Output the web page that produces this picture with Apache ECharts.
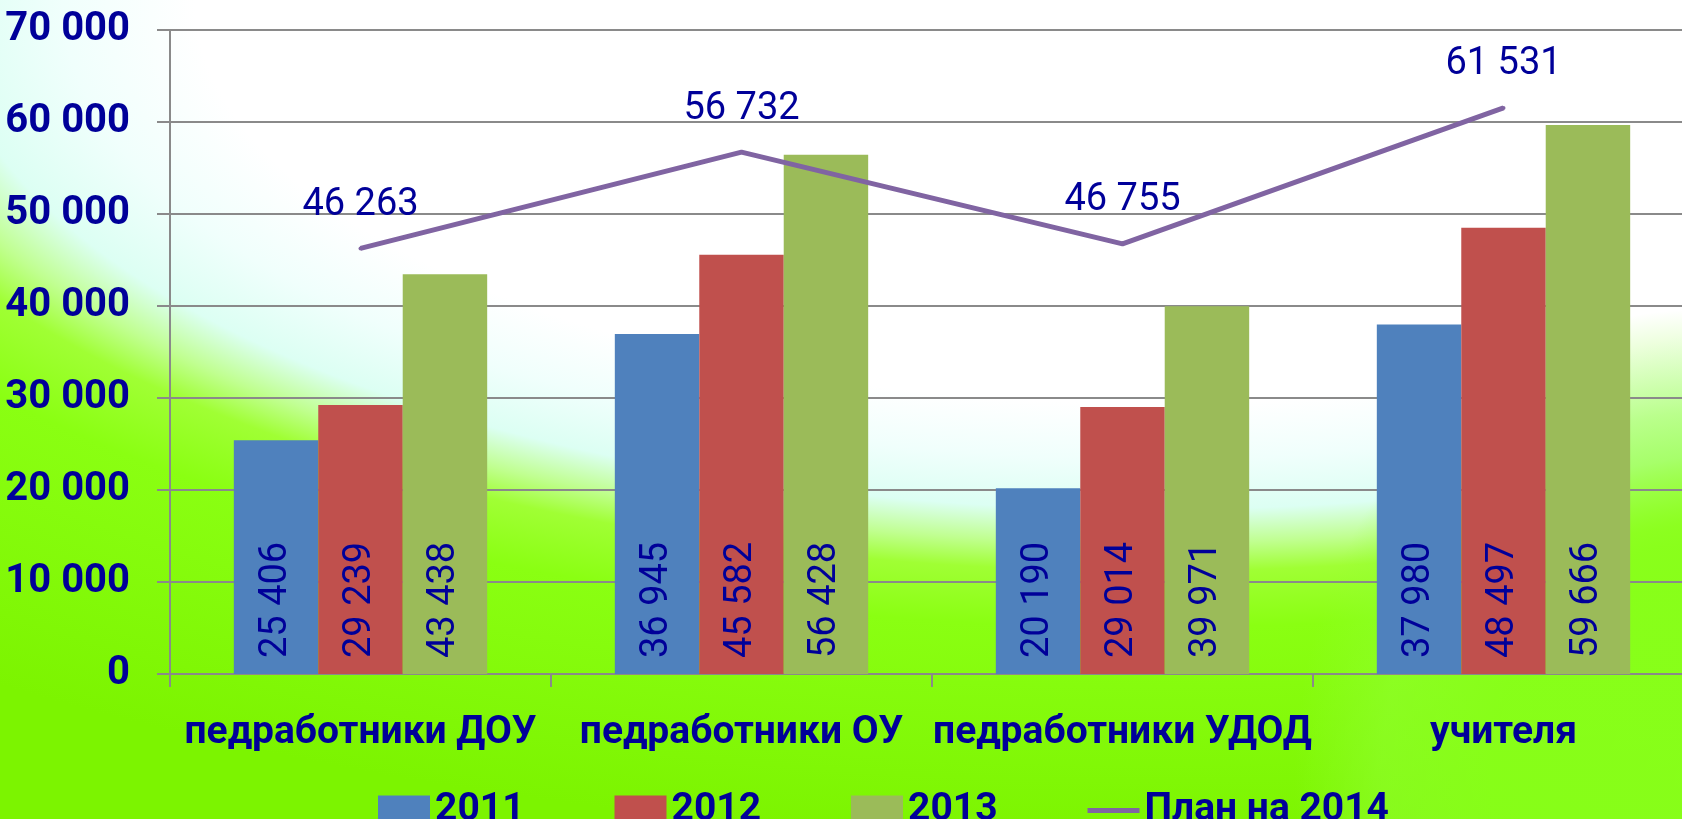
<!DOCTYPE html>
<html>
<head>
<meta charset="utf-8">
<script src="https://cdn.jsdelivr.net/npm/echarts@6/dist/echarts.min.js"></script>
<style>
html,body{margin:0;padding:0;overflow:hidden;width:1682px;height:819px;}
#chart{
  width:1694px;height:819px;
  background:
    radial-gradient(ellipse 400px 470px at 1694px 780px, rgba(136,255,26,0.95) 0%, rgba(136,255,26,0.9) 50%, rgba(145,255,50,0.55) 78%, rgba(150,255,60,0) 100%),
    radial-gradient(ellipse 1326px 560px at 1150px 0px, #ffffff 0%, #ffffff 72%, #f0fffc 82%, #dcfff3 91%, #c0ff90 97%, #a0ff34 102%, #8aff12 112%, #7cf400 150%);
}
</style>
</head>
<body>
<div id="chart"></div>
<script>
const categories = ['педработники ДОУ', 'педработники ОУ', 'педработники УДОД', 'учителя'];
const values2011 = [25406, 36945, 20190, 37980];
const values2012 = [29239, 45582, 29014, 48497];
const values2013 = [43438, 56428, 39971, 59666];
const plan2014 = [46263, 56732, 46755, 61531];
const seriesNames = ['2011', '2012', '2013', 'План на 2014'];
const yTicks = [0, 10000, 20000, 30000, 40000, 50000, 60000, 70000];

const NAVY = '#000099';
const FONT = 'Roboto, "Noto Sans", sans-serif';
const fmt = v => String(v).replace(/\B(?=(\d{3})+(?!\d))/g, ' ');

const barLabel = {
  show: true,
  position: 'insideBottom',
  rotate: 90,
  align: 'left',
  verticalAlign: 'middle',
  distance: 16,
  color: NAVY,
  fontFamily: FONT,
  fontSize: 38,
  fontWeight: 'normal',
  formatter: p => fmt(p.value)
};

const chart = echarts.init(document.getElementById('chart'), null, {renderer: 'canvas'});
chart.setOption({
  backgroundColor: 'transparent',
  animation: false,
  grid: {left: 170, right: 0, top: 30, bottom: 145, containLabel: false},
  legend: {
    left: 373, top: 786,
    itemWidth: 52, itemHeight: 30, itemGap: 90,
    textStyle: {color: NAVY, fontFamily: FONT, fontSize: 39, fontWeight: 'bold'},
    data: seriesNames.map((n, i) => i < 3 ? {name: n, icon: 'rect'} :
      {name: n, icon: 'path://M0,0 M0,30 M0,12.5 L52,12.5 L52,17.5 L0,17.5 Z', itemStyle: {color: '#8064A2', borderWidth: 0}})
  },
  xAxis: {
    type: 'category',
    data: categories,
    axisLine: {show: true, lineStyle: {color: '#8a8a8a', width: 2}},
    axisTick: {show: true, length: 13, interval: 0, lineStyle: {color: '#8a8a8a', width: 2}},
    axisLabel: {interval: 0, margin: 40, color: NAVY, fontFamily: FONT, fontSize: 39, fontWeight: 'bold'}
  },
  yAxis: {
    type: 'value',
    min: yTicks[0], max: yTicks[yTicks.length - 1], interval: 10000,
    axisLine: {show: true, lineStyle: {color: '#8a8a8a', width: 2}},
    axisTick: {show: true, length: 13, lineStyle: {color: '#8a8a8a', width: 2}},
    splitLine: {show: true, lineStyle: {color: '#8a8a8a', width: 2}},
    axisLabel: {margin: 40, color: NAVY, fontFamily: FONT, fontSize: 40, fontWeight: 'bold', formatter: v => fmt(v)}
  },
  series: [
    {name: seriesNames[0], type: 'bar', data: values2011, barGap: '0%', barCategoryGap: '33.5%',
     itemStyle: {color: '#4F81BD'}, label: barLabel},
    {name: seriesNames[1], type: 'bar', data: values2012, barGap: '0%', barCategoryGap: '33.5%',
     itemStyle: {color: '#C0504D'}, label: barLabel},
    {name: seriesNames[2], type: 'bar', data: values2013, barGap: '0%', barCategoryGap: '33.5%',
     itemStyle: {color: '#9BBB59'}, label: barLabel},
    {name: seriesNames[3], type: 'line', data: plan2014,
     symbol: 'circle', symbolSize: 4,
     itemStyle: {color: '#8064A2'},
     lineStyle: {color: '#8064A2', width: 5},
     label: {show: true, position: 'top', distance: 22, color: NAVY, fontFamily: FONT, fontSize: 38, fontWeight: 'normal', formatter: p => fmt(p.value)}}
  ]
});
</script>
</body>
</html>
